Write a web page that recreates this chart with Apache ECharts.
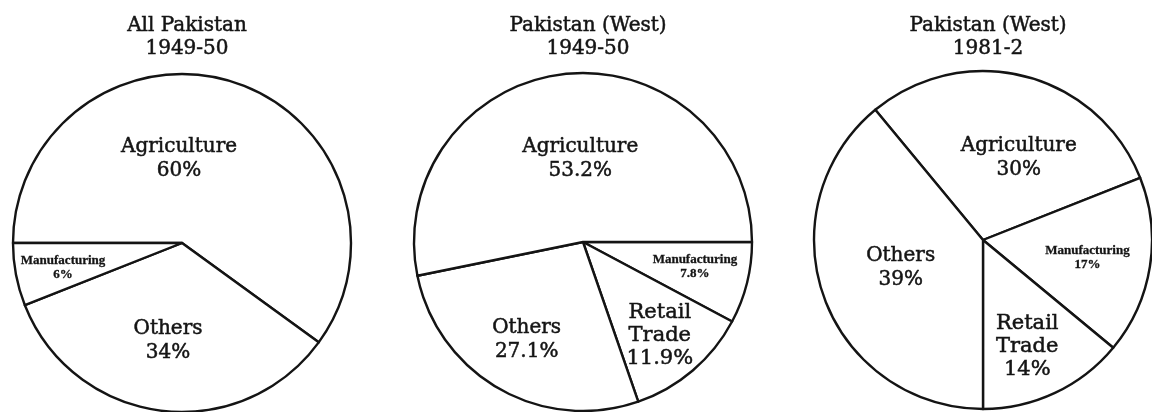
<!DOCTYPE html>
<html>
<head>
<meta charset="utf-8">
<script src="https://cdn.jsdelivr.net/npm/echarts@6/dist/echarts.min.js"></script>
<style>
  html, body { margin: 0; padding: 0; background: #fff; }
  #chart { width: 1152px; height: 412px; }
</style>
</head>
<body>
<div id="chart"></div>
<script>
// titles
var titles = ["All Pakistan\n1949-50", "Pakistan (West)\n1949-50", "Pakistan (West)\n1981-2"];

// slices, listed clockwise as they are drawn
var names1 = ["Agriculture", "Others", "Manufacturing"];
var values1 = [60, 34, 6];

var names2 = ["Manufacturing", "Retail Trade", "Others", "Agriculture"];
var values2 = [7.8, 11.9, 27.1, 53.2];

var names3 = ["Agriculture", "Manufacturing", "Retail Trade", "Others"];
var values3 = [30, 17, 14, 39];

var serif = "DejaVu Serif";
var ink = "#141414";

var myChart = echarts.init(document.getElementById("chart"));

// label nudges from the default "inside" spot (px)
var shifts = [
  [[-30, -1], [-3, 11], [-33, 8]],
  [[27, 3], [20, 27], [-13, 22], [6, 4]],
  [[14, 3], [18, 4], [7, 27], [0, -2]]
];

function makeData(names, values) {
  return names.map(function (n, i) {
    var item = { name: n, value: values[i] };
    if (n === "Manufacturing") {
      item.label = {
        fontFamily: "Liberation Serif",
        fontWeight: "bold",
        fontSize: 13,
        lineHeight: 14,
        textBorderWidth: 0.3
      };
    }
    if (n === "Retail Trade") {
      item.label = { fontSize: 21, lineHeight: 23 };
    }
    return item;
  });
}

function makePie(idx, center, startAngle, names, values) {
  return {
    type: "pie",
    center: center,
    radius: 169,
    startAngle: startAngle,
    clockwise: true,
    avoidLabelOverlap: false,
    silent: true,
    animation: false,
    itemStyle: {
      color: "#fff",
      borderColor: ink,
      borderWidth: 2.4
    },
    label: {
      show: true,
      position: "inside",
      color: ink,
      fontFamily: serif,
      fontSize: 20,
      lineHeight: 24,
      textBorderColor: ink,
      textBorderWidth: 0.5,
      formatter: function (p) {
        return p.name.replace(" ", "\n") + "\n" + p.value + "%";
      }
    },
    labelLine: { show: false },
    labelLayout: function (params) {
      var s = shifts[idx][params.dataIndex];
      return { dx: s[0], dy: s[1] };
    },
    data: makeData(names, values)
  };
}

var centers = [[182, 243], [583, 242], [983, 240]];

var option = {
  backgroundColor: "#fff",
  title: titles.map(function (t, i) {
    return {
      text: t,
      left: centers[i][0],
      top: 9,
      textAlign: "center",
      textStyle: {
        fontFamily: serif,
        fontWeight: "normal",
        fontSize: 20,
        lineHeight: 23,
        color: ink,
        textBorderColor: ink,
        textBorderWidth: 0.5
      }
    };
  }),
  series: [
    makePie(0, centers[0], 180, names1, values1),
    makePie(1, centers[1], 0, names2, values2),
    makePie(2, centers[2], 129.6, names3, values3)
  ]
};

myChart.setOption(option);
</script>
</body>
</html>
